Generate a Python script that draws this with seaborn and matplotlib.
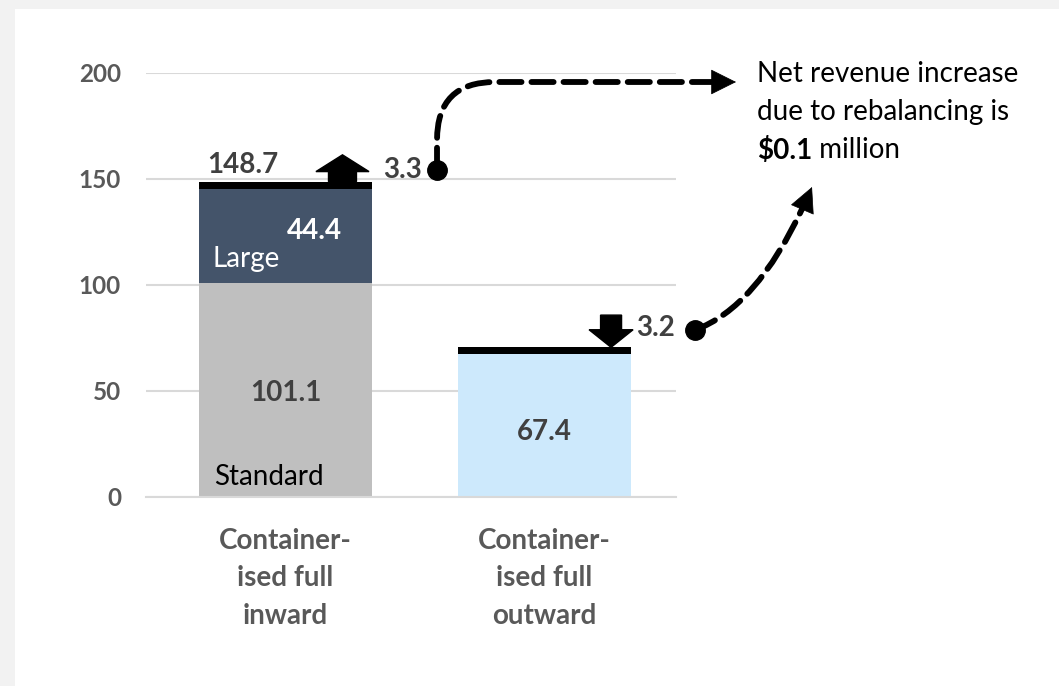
import numpy as np
import pandas as pd
import seaborn as sns
import matplotlib.pyplot as plt
from matplotlib.patches import Rectangle

# data
categories = ["Container-\nised full\ninward", "Container-\nised full\noutward"]
base = [101.1, 67.4]     # Standard (inward) / whole bar (outward)
large = [44.4, 0.0]      # Large segment, inward only
change = [3.3, 3.2]      # rebalancing change (up for inward, down for outward)
total_inward = 148.7
yticks = [0, 50, 100, 150, 200]

W, H = 1059, 686


def px(x, y):
    # pixel position (from top-left) -> figure fraction
    return (x / W, 1 - y / H)


sns.set_theme(style="white")
plt.rcParams['font.family'] = ['Lato', 'DejaVu Sans']

fig = plt.figure(figsize=(W / 100, H / 100), dpi=100, facecolor="#f2f2f2")
fig.patches.append(Rectangle(px(15, 686), 1, 1 - 9 / H, transform=fig.transFigure,
                             facecolor="white", edgecolor="none", zorder=-1))
ax = fig.add_axes([146 / W, 189 / H, 530 / W, 424 / H])
ax.set_facecolor("none")

df = pd.DataFrame({"category": categories})
df["mid"] = np.add(base, large)
df["top"] = df["mid"] + change
df["base"] = base

grey = "#595959"
fs = 20
sns.barplot(data=df, x="category", y="top", color="black", saturation=1,
            width=0.67, linewidth=0, ax=ax, zorder=2)
sns.barplot(data=df, x="category", y="mid", hue="category", dodge=False, legend=False,
            palette=["#44546a", "#cde9fc"], saturation=1, width=0.67, linewidth=0,
            ax=ax, zorder=2)
sns.barplot(data=df, x="category", y="base", hue="category", dodge=False, legend=False,
            palette=["#bfbfbf", "#cde9fc"], saturation=1, width=0.67, linewidth=0,
            ax=ax, zorder=2)

ax.set_xlim(-0.5 - 10 / 259, -0.5 + 520 / 259)
ax.set_ylim(0, 200)
ax.set_yticks(yticks)
ax.set_xlabel("")
ax.set_ylabel("")
ax.yaxis.grid(True, color="#d9d9d9", lw=1.5, zorder=0)
ax.set_axisbelow(True)
for s in ["top", "right", "left"]:
    ax.spines[s].set_visible(False)
ax.spines["bottom"].set_color("#d9d9d9")
ax.spines["bottom"].set_linewidth(1.5)

ax.tick_params(axis="y", length=0, pad=18, labelsize=17.5, labelcolor=grey)
ax.tick_params(axis="x", which="major", length=0, pad=22, labelsize=fs, labelcolor=grey)
ax.set_xticks([-0.5, 0.5, 1.5], minor=True)
ax.tick_params(axis="x", which="minor", length=5, width=1.5, color="#d9d9d9", direction="out")
for lab in ax.get_yticklabels() + ax.get_xticklabels():
    lab.set_fontweight("bold")
for lab in ax.get_xticklabels():
    lab.set_linespacing(1.55)

# labels in and on the bars
dark = "#404040"
ax.text(0, base[0] / 2 - 1.5, f"{base[0]}", ha="center", va="center", fontsize=fs,
        fontweight="bold", color=dark)
ax.text(-0.275, 9.4, "Standard", ha="left", va="center", fontsize=fs, color="black")
ax.text(0.11, base[0] + large[0] / 2 + 2, f"{large[0]}", ha="center", va="center",
        fontsize=fs, fontweight="bold", color="white")
ax.text(-0.28, base[0] + 11, "Large", ha="left", va="center", fontsize=fs, color="white")
ax.text(1, base[1] / 2 - 3, f"{base[1]}", ha="center", va="center", fontsize=fs,
        fontweight="bold", color=dark)
ax.text(-0.165, total_inward + 8, f"{total_inward}", ha="center", va="center",
        fontsize=fs, fontweight="bold", color=dark)
ax.text(0.452, df["top"][0] + 5.5, f"{change[0]}", ha="center", va="center",
        fontsize=fs, fontweight="bold", color=dark)
ax.text(1.43, df["top"][1] + 9, f"{change[1]}", ha="center", va="center",
        fontsize=fs, fontweight="bold", color=dark)

# block arrows showing the change
ax.arrow(0.22, df["top"][0], 0, 12.6, width=0.108, head_width=0.205, head_length=7.9,
         length_includes_head=True, color="black", zorder=5, clip_on=False)
ax.arrow(1.257, df["top"][1] + 15.2, 0, -15.2, width=0.081, head_width=0.17,
         head_length=8.3, length_includes_head=True, color="black", zorder=5, clip_on=False)

# dots and dashed connectors to the note
c1 = (0.585, df["top"][0] + 5.5)
c2 = (1.581, df["top"][1] + 8.2)
ax.plot(*c1, "o", ms=14, color="black", clip_on=False, zorder=6)
ax.plot(*c2, "o", ms=14, color="black", clip_on=False, zorder=6)

dash = dict(arrowstyle="-", lw=4.2, ls=(0, (3.8, 1.7)), color="black",
            shrinkA=0, shrinkB=0)
ax.annotate("", xy=px(713, 82), xycoords="figure fraction", xytext=c1,
            textcoords="data", annotation_clip=False,
            arrowprops=dict(connectionstyle="angle,angleA=90,angleB=0,rad=58", **dash))
ax.annotate("", xy=px(803, 207), xycoords="figure fraction", xytext=c2,
            textcoords="data", annotation_clip=False,
            arrowprops=dict(connectionstyle="angle3,angleA=20,angleB=65", **dash))
head = dict(arrowstyle="-|>,head_length=1.7,head_width=0.85", lw=0.5, color="black",
            shrinkA=0, shrinkB=0, mutation_scale=10)
ax.annotate("", xy=px(736, 82), xycoords="figure fraction", xytext=px(712, 82),
            textcoords="figure fraction", annotation_clip=False, arrowprops=head)
ax.annotate("", xy=px(812, 187), xycoords="figure fraction", xytext=px(803, 208),
            textcoords="figure fraction", annotation_clip=False, arrowprops=head)

# note text
fig.text(*px(757, 74), "Net revenue increase", ha="left", va="center", fontsize=fs,
         color="black")
fig.text(*px(757, 112), "due to rebalancing is", ha="left", va="center", fontsize=fs,
         color="black")
t = fig.text(*px(757, 150), "$0.1", ha="left", va="center", fontsize=fs,
             fontweight="bold", color="black")
ax.annotate(" million", xy=(1, 0), xycoords=t, ha="left", va="bottom", fontsize=fs,
            color="black", annotation_clip=False)

fig.savefig("out.png", dpi=100)
